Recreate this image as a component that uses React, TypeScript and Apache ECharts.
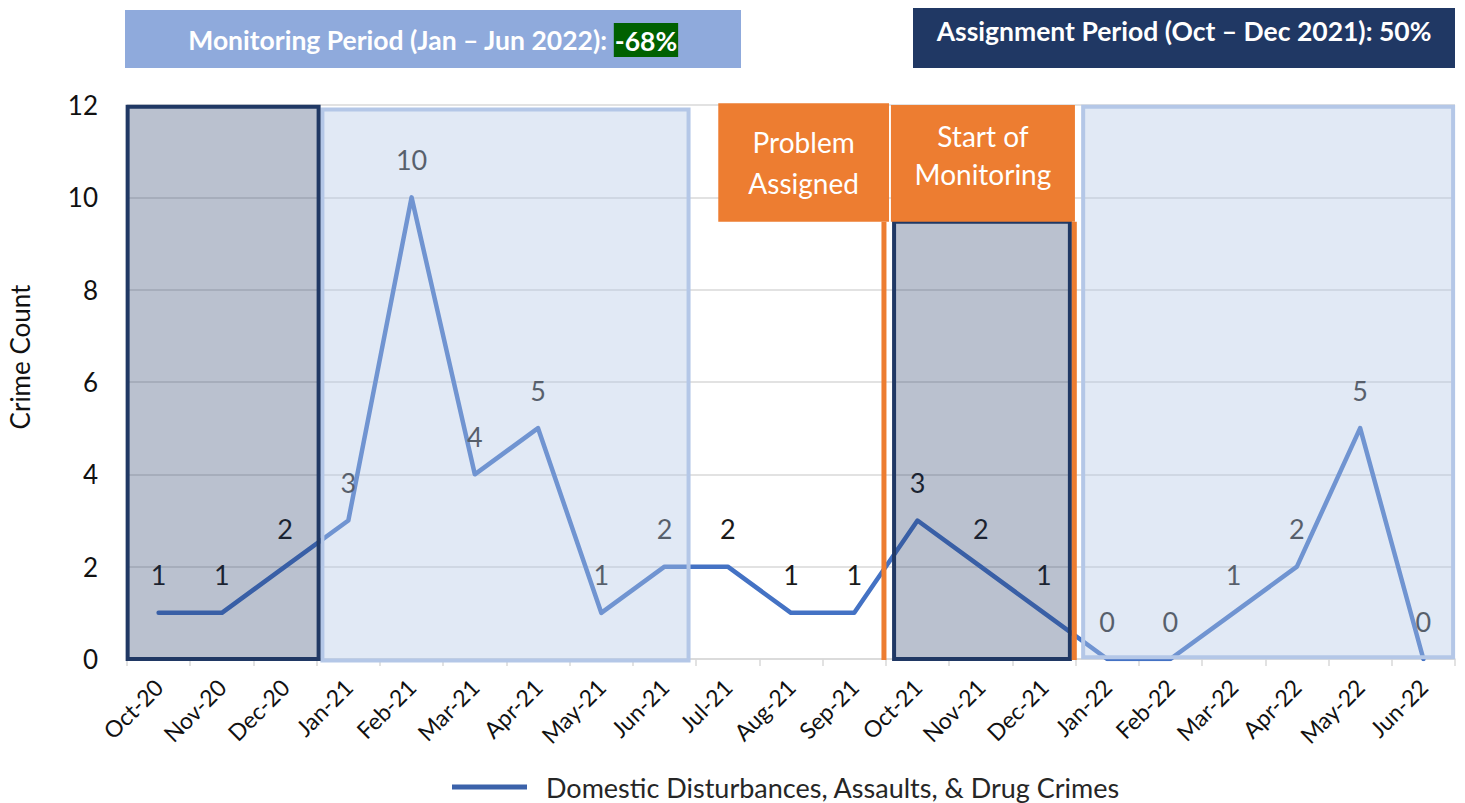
import React, { useEffect, useRef } from "react";
import * as echarts from "echarts";

const categories = [
  "Oct-20", "Nov-20", "Dec-20", "Jan-21", "Feb-21", "Mar-21", "Apr-21",
  "May-21", "Jun-21", "Jul-21", "Aug-21", "Sep-21", "Oct-21", "Nov-21",
  "Dec-21", "Jan-22", "Feb-22", "Mar-22", "Apr-22", "May-22", "Jun-22",
];
const crimeCounts = [1, 1, 2, 3, 10, 4, 5, 1, 2, 2, 1, 1, 3, 2, 1, 0, 0, 1, 2, 5, 0];
const seriesName = "Domestic Disturbances, Assaults, & Drug Crimes";
const yTicks = { min: 0, max: 12, interval: 2 };

// shaded periods, in category-index units and value units
const darkPeriods = [
  { from: -0.49, to: 2.53, top: 11.96, bottom: 0 },
  { from: 11.63, to: 14.41, top: 9.47, bottom: 0 },
];
const lightPeriods = [
  { from: 2.59, to: 8.38, top: 11.9, bottom: -0.03 },
  { from: 14.62, to: 20.47, top: 11.96, bottom: 0.04 },
];
const orangeLines = [
  { at: 11.47, top: 9.47, bottom: -0.02 },
  { at: 14.48, top: 9.47, bottom: -0.02 },
];
const orangeBoxes = [
  { from: 8.85, to: 11.55, top: 12.04, bottom: 9.47, text: "Problem\nAssigned", lh: 41, dy: 0 },
  { from: 11.58, to: 14.49, top: 12.0, bottom: 9.47, text: "Start of\nMonitoring", lh: 38, dy: -8 },
];

const FONT = "Lato, 'Open Sans', sans-serif";

export default function App() {
  const ref = useRef<HTMLDivElement>(null);
  useEffect(() => {
    if (!ref.current) return;
    const chart = echarts.init(ref.current, null, { renderer: "svg" });
    chart.setOption({
      animation: false,
      textStyle: { fontFamily: FONT },
      grid: { left: 127, right: 10, top: 105, bottom: 144, containLabel: false },
      legend: {
        left: 452,
        top: 772,
        itemWidth: 75,
        itemHeight: 5,
        itemGap: 20,
        icon: "rect",
        padding: 0,
        data: [{ name: seriesName, itemStyle: { color: "#3b62aa" } }],
        textStyle: { fontSize: 27, lineHeight: 30, color: "#262626", fontFamily: FONT, padding: [0, 0, 0, 14] },
      },
      xAxis: {
        type: "category",
        data: categories,
        boundaryGap: true,
        axisLine: { lineStyle: { color: "#D9D9D9", width: 1.5 } },
        axisTick: { show: true, length: 7, lineStyle: { color: "#D9D9D9", width: 1.5 } },
        axisLabel: { rotate: 45, fontSize: 23, color: "#111", margin: 24, interval: 0, fontFamily: FONT },
        splitLine: { show: false },
      },
      yAxis: {
        type: "value",
        min: yTicks.min,
        max: yTicks.max,
        interval: yTicks.interval,
        axisLine: { show: false },
        axisTick: { show: false },
        axisLabel: { fontSize: 26, color: "#111", margin: 29, fontFamily: FONT },
        splitLine: { lineStyle: { color: "#D9D9D9", width: 1.5 } },
      },
      series: [
        {
          name: seriesName,
          type: "line",
          data: crimeCounts,
          symbol: "circle",
          symbolSize: 1,
          showSymbol: true,
          itemStyle: { color: "#4472C4" },
          lineStyle: { color: "#4472C4", width: 4.5, cap: "round", join: "round" },
          label: {
            show: true,
            position: "top",
            distance: 24,
            fontSize: 27,
            color: "#1a1a1a",
            fontFamily: FONT,
          },
          z: 2,
        },
      ],
    });

    const px = (i: number) => {
      const p0 = chart.convertToPixel({ xAxisIndex: 0 }, 0) as number;
      const p1 = chart.convertToPixel({ xAxisIndex: 0 }, 1) as number;
      return p0 + (p1 - p0) * i;
    };
    const py = (v: number) => chart.convertToPixel({ yAxisIndex: 0 }, v) as number;

    const graphics: any[] = [];
    lightPeriods.forEach((p) => {
      graphics.push({
        type: "rect",
        z: 100,
        shape: { x: px(p.from), y: py(p.top), width: px(p.to) - px(p.from), height: py(p.bottom) - py(p.top) },
        style: { fill: "rgba(180,199,231,0.4)", stroke: "#B4C7E7", lineWidth: 4 },
      });
    });
    darkPeriods.forEach((p) => {
      graphics.push({
        type: "rect",
        z: 101,
        shape: { x: px(p.from), y: py(p.top), width: px(p.to) - px(p.from), height: py(p.bottom) - py(p.top) },
        style: { fill: "rgba(32,56,100,0.31)", stroke: "#203864", lineWidth: 4 },
      });
    });
    orangeLines.forEach((l) => {
      graphics.push({
        type: "line",
        z: 102,
        shape: { x1: px(l.at), y1: py(l.top), x2: px(l.at), y2: py(l.bottom) },
        style: { stroke: "#ED7D31", lineWidth: 5 },
      });
    });
    orangeBoxes.forEach((b) => {
      const x = px(b.from);
      const y = py(b.top);
      const w = px(b.to) - x;
      const h = py(b.bottom) - y;
      graphics.push({
        type: "rect",
        z: 103,
        shape: { x, y, width: w, height: h },
        style: { fill: "#ED7D31" },
      });
      graphics.push({
        type: "text",
        z: 104,
        x: x + w / 2,
        y: y + h / 2 + b.dy,
        style: {
          text: b.text,
          fill: "#fff",
          fontSize: 28,
          fontFamily: FONT,
          lineHeight: b.lh,
          align: "center",
          verticalAlign: "middle",
        },
      });
    });
    // headline boxes
    graphics.push({
      type: "rect",
      z: 110,
      shape: { x: 125, y: 10, width: 616, height: 58 },
      style: { fill: "#8FAADC" },
    });
    graphics.push({
      type: "text",
      z: 111,
      x: 433,
      y: 40,
      style: {
        text: "{a|Monitoring Period (Jan – Jun 2022): }{g|-68%}",
        align: "center",
        verticalAlign: "middle",
        rich: {
          a: { fill: "#fff", fontSize: 26.5, fontWeight: "bold", fontFamily: FONT },
          g: { fill: "#fff", fontSize: 26.5, fontWeight: "bold", fontFamily: FONT, backgroundColor: "#006100", padding: [4, 1, 3, 1] },
        },
      },
    });
    graphics.push({
      type: "rect",
      z: 110,
      shape: { x: 913, y: 8, width: 542, height: 60 },
      style: { fill: "#203864" },
    });
    graphics.push({
      type: "text",
      z: 111,
      x: 1184,
      y: 31,
      style: {
        text: "Assignment Period (Oct – Dec 2021): 50%",
        fill: "#fff",
        fontSize: 26.5,
        fontWeight: "bold",
        fontFamily: FONT,
        align: "center",
        verticalAlign: "middle",
      },
    });
    graphics.push({
      type: "text",
      z: 111,
      x: 20,
      y: 357,
      rotation: Math.PI / 2,
      style: {
        text: "Crime Count",
        fill: "#111",
        fontSize: 26,
        fontFamily: FONT,
        align: "center",
        verticalAlign: "middle",
      },
    });
    chart.setOption({ graphic: { elements: graphics } });

    return () => chart.dispose();
  }, []);
  return <div ref={ref} style={{ width: 1465, height: 803, position: "absolute", left: 0, top: 0 }} />;
}
